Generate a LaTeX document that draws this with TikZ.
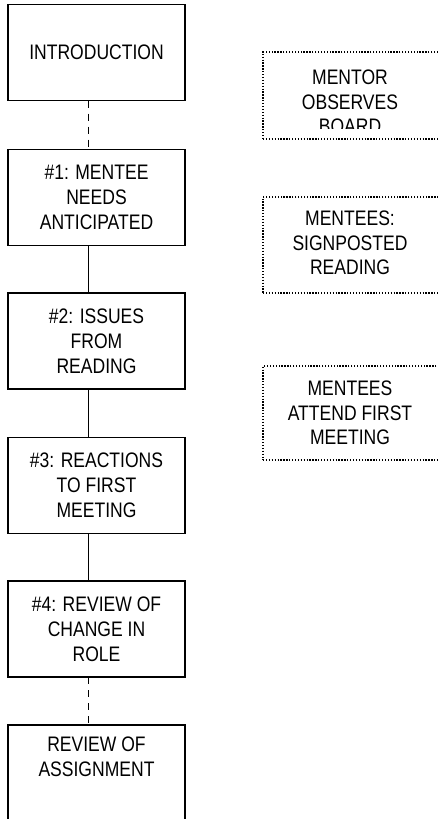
\documentclass[tikz,border=0pt]{standalone}
\usepackage{fontspec}
\setmainfont[FakeStretch=0.835]{Liberation Sans}
\begin{document}
\begin{tikzpicture}[x=1pt,y=-1pt,
  box/.style={draw, line width=1.8pt, rectangle, minimum width=177pt, minimum height=96pt,
    inner sep=0pt, outer sep=0pt, align=center, font=\fontsize{21}{25}\selectfont},
  note/.style={draw, line width=1.3pt, dash pattern=on 1.3pt off 1.6pt, rectangle,
    minimum width=176pt, inner sep=0pt, outer sep=0pt},
  notetext/.style={align=center, inner sep=0pt, font=\fontsize{21}{24.5}\selectfont},
  link/.style={line width=1.8pt},
  dlink/.style={line width=1.8pt, dash pattern=on 7pt off 6pt}]
\useasboundingbox (0,0) rectangle (438,819);
\clip (0,0) rectangle (438,819);
\fill[white] (0,0) rectangle (438,819);
% left column
\node[box] (intro) at (96.5,52.5) {INTRODUCTION};
\node[box] (n1) at (96.5,197.5) {\#1: MENTEE\\NEEDS\\ANTICIPATED};
\node[box] (n2) at (96.5,341) {\#2: ISSUES\\FROM\\READING};
\node[box] (n3) at (96.5,485.5) {\#3: REACTIONS\\TO FIRST\\MEETING};
\node[box] (n4) at (96.5,629) {\#4: REVIEW OF\\CHANGE IN\\ROLE};
\node[box] (rev) at (96.5,773) {REVIEW OF\\ASSIGNMENT\\\strut};
\coordinate (cx) at (88.5,0);
\draw[dlink] (intro.south -| cx) -- (n1.north -| cx);
\draw[link] (n1.south -| cx) -- (n2.north -| cx);
\draw[link] (n2.south -| cx) -- (n3.north -| cx);
\draw[link] (n3.south -| cx) -- (n4.north -| cx);
\draw[dlink] (n4.south -| cx) -- (rev.north -| cx);
% right column
\node[note, minimum height=87pt] (a) at (351,95.5) {};
\begin{scope}
  \clip (263,52) rectangle (440,128);
  \node[notetext] (atext) at (350,102) {MENTOR\\OBSERVES\\BOARD};
\end{scope}
\node[note, minimum height=96pt] (b) at (351,245) {};
\node[notetext] (btext) at (350,243) {MENTEES:\\SIGNPOSTED\\READING};
\node[note, minimum height=94pt] (c) at (351,413) {};
\node[notetext] (ctext) at (350,413) {MENTEES\\ATTEND FIRST\\MEETING};
\end{tikzpicture}
\end{document}
